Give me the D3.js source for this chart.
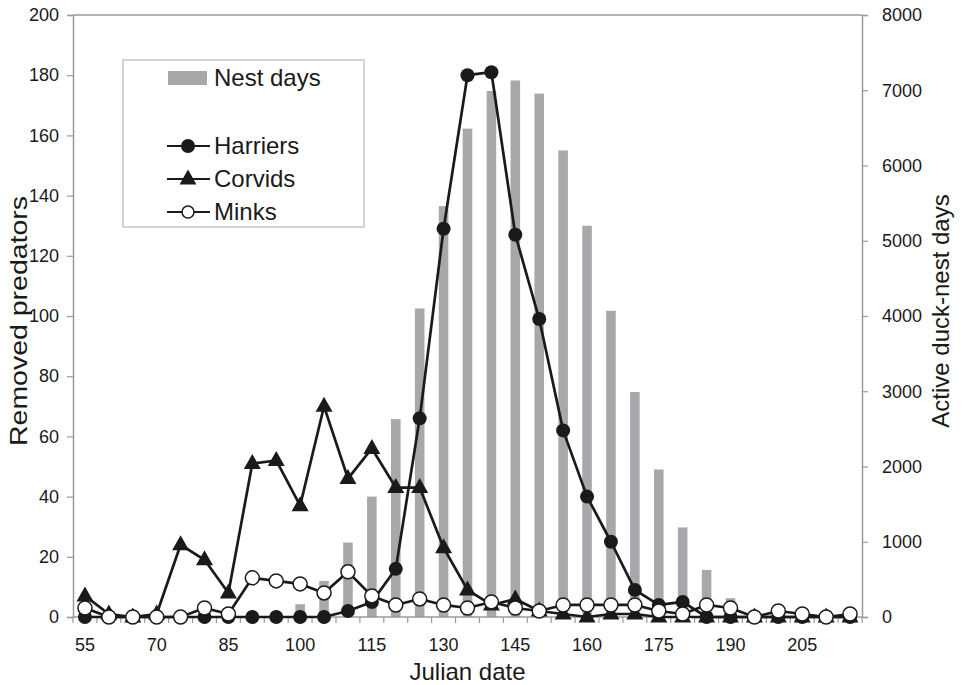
<!DOCTYPE html>
<html>
<head>
<meta charset="utf-8">
<script src="https://cdn.jsdelivr.net/npm/d3@7"></script>
<style>
  html, body { margin: 0; padding: 0; background: #fff; }
  svg { display: block; }
  text { font-family: "Liberation Sans", Arial, Helvetica, sans-serif; fill: #1a1a1a; }
</style>
</head>
<body>
<svg id="chart" width="962" height="685"></svg>
<script>
// ---- data ----
const categories = [55,60,65,70,75,80,85,90,95,100,105,110,115,120,125,130,135,140,145,150,155,160,165,170,175,180,185,190,195,200,205,210,215];
const xTickLabels = [55,70,85,100,115,130,145,160,175,190,205];
const nestDays = [0,0,0,0,0,0,0,0,0,170,480,990,1600,2630,4100,5460,6490,6990,7130,6955,6200,5200,4070,2990,1960,1190,625,250,50,0,0,0,0];
const harriers = [0,0,0,0,0,0,0,0,0,0,0,2,5,16,66,129,180,181,127,99,62,40,25,9,4,5,0,0,0,0,0,0,0];
const corvids  = [7,1,0,1,24,19,8,51,52,37,70,46,56,43,43,23,9,4,6,2,1,0,1,1,0,0,0,0,0,0,0,0,0];
const minks    = [3,0,0,0,0,3,1,13,12,11,8,15,7,4,6,4,3,5,3,2,4,4,4,4,2,1,4,3,0,2,1,0,1];
const leftTicks = [0,20,40,60,80,100,120,140,160,180,200];
const rightTicks = [0,1000,2000,3000,4000,5000,6000,7000,8000];
const seriesNames = ["Harriers","Corvids","Minks"];
const barName = "Nest days";

// ---- layout ----
const L = 73, R = 862, T = 15, B = 617;
const svg = d3.select("#chart");
const axisColor = "#9a9a9a";
const ink = "#1a1a1a";
const barColor = "#a7a8ac";

const x = d3.scaleBand().domain(categories).range([L, R]).paddingInner(0).paddingOuter(0);
const yL = d3.scaleLinear().domain([0, 200]).range([B, T]);
const yR = d3.scaleLinear().domain([0, 8000]).range([B, T]);
const cx = d => x(d) + x.bandwidth() / 2;
const barW = x.bandwidth() * 0.4;

// bars
svg.append("g").selectAll("rect").data(categories.map((c, i) => ({c, v: nestDays[i]})).filter(d => d.v > 0))
  .join("rect")
  .attr("x", d => cx(d.c) - barW / 2)
  .attr("width", barW)
  .attr("y", d => yR(d.v))
  .attr("height", d => B - yR(d.v))
  .attr("fill", barColor);

// frame top line
svg.append("line").attr("x1", L).attr("x2", R).attr("y1", T).attr("y2", T).attr("stroke", axisColor).attr("stroke-width", 1.5);

// left axis
const gL = svg.append("g").attr("transform", `translate(${L},0)`)
  .call(d3.axisLeft(yL).tickValues(leftTicks).tickSize(6).tickPadding(8));
// right axis
const gR = svg.append("g").attr("transform", `translate(${R},0)`)
  .call(d3.axisRight(yR).tickValues(rightTicks).tickFormat(d3.format("d")).tickSize(6).tickPadding(14));
// bottom axis
const gB = svg.append("g").attr("transform", `translate(0,${B})`)
  .call(d3.axisBottom(x).tickValues(xTickLabels).tickSize(0).tickPadding(21));
// category boundary ticks
const bounds = categories.map(c => x(c)).concat([R]);
gB.append("g").selectAll("line").data(bounds).join("line")
  .attr("x1", d => d).attr("x2", d => d).attr("y1", 0).attr("y2", 6)
  .attr("stroke", axisColor).attr("stroke-width", 1.2);

[gL, gR, gB].forEach(g => {
  g.select(".domain").attr("stroke", axisColor).attr("stroke-width", 1.5);
  g.selectAll(".tick line").attr("stroke", axisColor).attr("stroke-width", 1.2);
  g.selectAll(".tick text").attr("font-size", 18).attr("fill", ink)
    .attr("font-family", '"Liberation Sans", Arial, sans-serif');
});
gB.select(".domain").attr("d", `M${L},0H${R}`);

// lines
const lineGen = yScale => d3.line().x(d => cx(d.c)).y(d => yScale(d.v));
const mk = arr => categories.map((c, i) => ({c, v: arr[i]}));
const allSeries = [harriers, corvids, minks];
const triPath = "M0,-9.5L8.5,5.5L-8.5,5.5Z";

allSeries.forEach((arr, si) => {
  const data = mk(arr);
  svg.append("path").datum(data).attr("d", lineGen(yL))
    .attr("fill", "none").attr("stroke", ink).attr("stroke-width", 2.7).attr("stroke-linejoin", "round");
  const g = svg.append("g");
  if (si === 0) {
    g.selectAll("circle").data(data).join("circle")
      .attr("cx", d => cx(d.c)).attr("cy", d => yL(d.v)).attr("r", 7).attr("fill", ink);
  } else if (si === 1) {
    g.selectAll("path").data(data).join("path")
      .attr("d", triPath).attr("transform", d => `translate(${cx(d.c)},${yL(d.v)})`).attr("fill", ink);
  } else {
    g.selectAll("circle").data(data).join("circle")
      .attr("cx", d => cx(d.c)).attr("cy", d => yL(d.v)).attr("r", 7)
      .attr("fill", "#fff").attr("stroke", ink).attr("stroke-width", 1.5);
  }
});

// axis titles
svg.append("text").attr("transform", `translate(27,321) rotate(-90)`)
  .attr("text-anchor", "middle").attr("font-size", 24)
  .attr("textLength", 250).attr("lengthAdjust", "spacingAndGlyphs").text("Removed predators");
svg.append("text").attr("transform", `translate(949,311) rotate(-90)`)
  .attr("text-anchor", "middle").attr("font-size", 24).text("Active duck-nest days");
svg.append("text").attr("x", (L + R) / 2).attr("y", 680)
  .attr("text-anchor", "middle").attr("font-size", 24).text("Julian date");

// legend
const lg = svg.append("g");
lg.append("rect").attr("x", 123).attr("y", 60).attr("width", 241).attr("height", 167)
  .attr("fill", "#fff").attr("stroke", "#b8b8b8").attr("stroke-width", 1.2);
lg.append("rect").attr("x", 168).attr("y", 71).attr("width", 39).attr("height", 14).attr("fill", barColor);
lg.append("text").attr("x", 214).attr("y", 86).attr("font-size", 24).text(barName);
const legY = [146, 179, 212];
seriesNames.forEach((name, i) => {
  const y = legY[i];
  lg.append("line").attr("x1", 167).attr("x2", 210).attr("y1", y).attr("y2", y)
    .attr("stroke", ink).attr("stroke-width", 2.2);
  if (i === 0) lg.append("circle").attr("cx", 188).attr("cy", y).attr("r", 7).attr("fill", ink);
  else if (i === 1) lg.append("path").attr("d", triPath).attr("transform", `translate(188,${y})`).attr("fill", ink);
  else lg.append("circle").attr("cx", 188).attr("cy", y).attr("r", 6).attr("fill", "#fff").attr("stroke", ink).attr("stroke-width", 1.5);
  lg.append("text").attr("x", 214).attr("y", y + 8).attr("font-size", 24).text(name);
});
</script>
</body>
</html>
